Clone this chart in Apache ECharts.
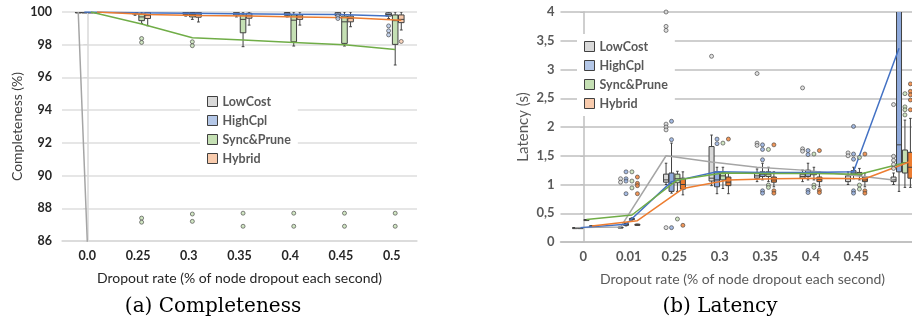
<!DOCTYPE html>
<html>
<head>
<meta charset="utf-8">
<script src="https://cdn.jsdelivr.net/npm/echarts@6/dist/echarts.min.js"></script>
<style>
  html, body { margin: 0; padding: 0; background: #fff; }
  #main { width: 912px; height: 335px; }
</style>
</head>
<body>
<div id="main"></div>
<script>
var methods = ['LowCost', 'HighCpl', 'Sync&Prune', 'Hybrid'];

// ---- (a) completeness ----
var compCats = ['0.0', '0.25', '0.3', '0.35', '0.4', '0.45', '0.5'];
// box = [low, q1, median, q3, high], null = not on the chart
var compLowCostBox = [[100, 100, 100, 100, 100], null, null, null, null, null, null];
var compHighCplBox = [[100, 100, 100, 100, 100], [99.8, 99.88, 99.95, 100, 100], [99.75, 99.85, 99.93, 99.98, 100],
  [99.7, 99.82, 99.9, 99.98, 100], [99.7, 99.8, 99.88, 99.97, 100], [99.65, 99.78, 99.86, 99.96, 100], [99.6, 99.75, 99.85, 99.95, 100]];
var compSyncBox = [[100, 100, 100, 100, 100], [99.3, 99.47, 99.7, 99.88, 100], [99.55, 99.7, 99.85, 99.97, 100],
  [97.88, 98.73, 99.55, 99.82, 100], [97.92, 98.18, 99.5, 99.82, 100], [97.92, 98.08, 99.4, 99.75, 100], [96.76, 98.02, 99.47, 99.82, 100]];
var compHybridBox = [[100, 100, 100, 100, 100], [99.16, 99.6, 99.8, 99.98, 100], [99.39, 99.68, 99.82, 99.98, 100],
  [99.2, 99.62, 99.77, 99.92, 100], [99.2, 99.55, 99.7, 99.82, 100], [99.1, 99.4, 99.6, 99.75, 100], [98.9, 99.35, 99.55, 99.82, 100]];
var compLowCostMean = [100, 21.5, 21.2, 21, 20.8, 20.6, 20.4];
var compHighCplMean = [100, 99.95, 99.93, 99.9, 99.87, 99.84, 99.75];
var compSyncMean = [100, 99.27, 98.43, 98.29, 98.14, 98.0, 97.7];
var compHybridMean = [100, 99.85, 99.78, 99.75, 99.7, 99.65, 99.5];
// outliers = [category index, value]
var compLowCostOut = [];
var compHighCplOut = [[5, 99.75], [5, 99.6], [6, 99.15], [6, 98.85], [6, 98.6]];
var compSyncOut = [[1, 98.38], [1, 98.14], [1, 87.4], [1, 87.15], [2, 98.18], [2, 97.94], [2, 87.65], [2, 87.2],
  [3, 87.7], [3, 86.9], [4, 87.7], [4, 86.9], [5, 87.7], [5, 86.9], [6, 87.7], [6, 86.9]];
var compHybridOut = [[6, 98.2]];

// ---- (b) latency ----
var latCats = ['0', '0.01', '0.25', '0.3', '0.35', '0.4', '0.45', '0.5'];
var latLowCostBox = [[0.25, 0.25, 0.25, 0.25, 0.25], [0.25, 0.25, 0.25, 0.26, 0.26], [1.0, 1.04, 1.08, 1.18, 1.37],
  [0.98, 1.06, 1.11, 1.66, 1.86], [1.05, 1.11, 1.15, 1.2, 1.27], [1.05, 1.11, 1.14, 1.18, 1.25], [1.0, 1.05, 1.1, 1.15, 1.22], [1.0, 1.05, 1.08, 1.13, 1.2]];
var latHighCplBox = [[0.25, 0.25, 0.25, 0.25, 0.25], [0.28, 0.29, 0.3, 0.32, 0.33], [0.85, 0.88, 1.02, 1.2, 1.72],
  [0.84, 0.96, 1.08, 1.22, 1.3], [1.08, 1.14, 1.18, 1.22, 1.37], [1.08, 1.14, 1.2, 1.25, 1.37], [1.1, 1.17, 1.2, 1.24, 1.3], [0.88, 1.22, 1.69, 4.6, 5.5]];
var latSyncBox = [[0.39, 0.39, 0.39, 0.39, 0.39], [0.38, 0.39, 0.4, 0.41, 0.42], [0.88, 1.03, 1.1, 1.18, 1.23],
  [0.93, 1.08, 1.15, 1.21, 1.3], [1.05, 1.14, 1.18, 1.22, 1.3], [1.08, 1.17, 1.2, 1.22, 1.3], [1.08, 1.16, 1.18, 1.21, 1.28], [0.95, 1.2, 1.38, 1.6, 2.12]];
var latHybridBox = [[0.28, 0.28, 0.28, 0.28, 0.28], [0.29, 0.29, 0.3, 0.31, 0.31], [0.82, 0.92, 1.0, 1.11, 1.22],
  [0.84, 0.98, 1.04, 1.13, 1.2], [0.96, 1.04, 1.08, 1.13, 1.22], [0.96, 1.05, 1.09, 1.13, 1.22], [0.96, 1.05, 1.08, 1.13, 1.2], [0.95, 1.11, 1.3, 1.56, 2.15]];
var latLowCostMean = [0.25, 0.26, 1.5, 1.39, 1.3, 1.25, 1.17, 1.08];
var latHighCplMean = [0.25, 0.31, 1.05, 1.22, 1.21, 1.21, 1.22, 3.37];
var latSyncMean = [0.39, 0.47, 1.08, 1.2, 1.19, 1.19, 1.18, 1.38];
var latHybridMean = [0.28, 0.37, 0.93, 1.08, 1.1, 1.11, 1.1, 1.4];
var latLowCostOut = [[1, 1.1], [1, 1.04], [2, 4.0], [2, 3.75], [2, 3.68], [2, 2.05], [2, 2.0], [2, 1.95], [2, 0.25], [3, 3.23],
  [4, 2.93], [4, 1.72], [4, 1.68], [5, 2.68], [5, 1.62], [5, 1.58], [6, 1.55], [6, 1.5], [7, 2.39], [7, 1.49], [7, 1.42], [7, 1.35], [7, 1.28]];
var latHighCplOut = [[1, 1.22], [1, 1.1], [1, 1.06], [1, 0.84], [2, 2.1], [2, 1.78], [2, 0.25], [3, 1.79], [3, 1.71],
  [4, 1.69], [4, 1.61], [4, 1.43], [4, 0.89], [4, 0.85], [5, 1.59], [5, 1.52], [5, 0.9], [5, 0.86], [6, 2.01], [6, 1.53], [6, 1.44], [6, 0.89], [6, 0.85]];
var latSyncOut = [[1, 1.22], [1, 1.06], [1, 0.94], [2, 0.4], [3, 1.72], [4, 1.61], [4, 0.99], [4, 0.95],
  [5, 1.53], [5, 0.99], [5, 0.95], [6, 1.47], [6, 0.99], [6, 0.92], [7, 2.58], [7, 2.35], [7, 2.3], [7, 2.21]];
var latHybridOut = [[1, 1.13], [1, 1.02], [1, 0.98], [1, 0.84], [2, 0.29], [3, 1.79], [4, 1.69], [4, 0.89], [4, 0.85],
  [5, 1.59], [5, 0.9], [5, 0.86], [6, 1.53], [6, 0.89], [6, 0.85], [7, 2.75], [7, 2.62], [7, 2.56], [7, 2.47], [7, 2.3]];

// styling
var lineColors = ['#a5a5a5', '#4472c4', '#70ad47', '#ed7d31'];
var legendFill = ['#d9d9d9', '#b4c7e7', '#c5e0b4', '#f8cbad'];
var compFill = ['#d9d9d9', '#b4c7e7', '#c5e0b4', '#f8cbad'];
var latFill = ['#d9d9d9', '#8faadc', '#c5e0b4', '#ed7d31'];
var offsets = [-0.18, -0.06, 0.07, 0.19];
var boxW = 0.11;
var edge = '#404040';

function makeBox(off, fill) {
  return function (params, api) {
    var x = api.value(0) + off;
    var lo = api.coord([x, api.value(1)]);
    var q1 = api.coord([x, api.value(2)]);
    var md = api.coord([x, api.value(3)]);
    var q3 = api.coord([x, api.value(4)]);
    var hi = api.coord([x, api.value(5)]);
    var w = api.size([boxW, 0])[0];
    var cx = lo[0];
    var st = { stroke: edge, lineWidth: 1 };
    return {
      type: 'group',
      children: [
        { type: 'line', shape: { x1: cx, y1: hi[1], x2: cx, y2: q3[1] }, style: st },
        { type: 'line', shape: { x1: cx, y1: q1[1], x2: cx, y2: lo[1] }, style: st },
        { type: 'line', shape: { x1: cx - w / 4, y1: hi[1], x2: cx + w / 4, y2: hi[1] }, style: st },
        { type: 'line', shape: { x1: cx - w / 4, y1: lo[1], x2: cx + w / 4, y2: lo[1] }, style: st },
        { type: 'rect', shape: { x: cx - w / 2, y: q3[1], width: w, height: Math.max(q1[1] - q3[1], 1) },
          style: { fill: fill, stroke: edge, lineWidth: 1 } },
        { type: 'line', shape: { x1: cx - w / 2, y1: md[1], x2: cx + w / 2, y2: md[1] }, style: st }
      ]
    };
  };
}

function buildSeries(g, boxes, means, outs, fills) {
  var list = [];
  methods.forEach(function (m, k) {
    var rows = [];
    boxes[k].forEach(function (b, i) { if (b) rows.push([i].concat(b)); });
    list.push({
      type: 'custom', name: m, xAxisIndex: g * 2 + 1, yAxisIndex: g, clip: true, z: 2,
      renderItem: makeBox(offsets[k], fills[k]),
      encode: { x: 0, y: [1, 2, 3, 4, 5] },
      data: rows
    });
  });
  methods.forEach(function (m, k) {
    list.push({
      type: 'line', name: m, xAxisIndex: g * 2 + 1, yAxisIndex: g, z: 3,
      symbol: 'none', clip: true, silent: true,
      lineStyle: { color: lineColors[k], width: 1.5 },
      itemStyle: { color: lineColors[k] },
      data: means[k].map(function (v, i) { return [i + offsets[k], v]; })
    });
  });
  methods.forEach(function (m, k) {
    list.push({
      type: 'scatter', name: m, xAxisIndex: g * 2 + 1, yAxisIndex: g, z: 4,
      symbolSize: 4, silent: true,
      itemStyle: { color: fills[k], borderColor: edge, borderWidth: 0.8 },
      data: outs[k].map(function (p) { return [p[0] + offsets[k], p[1]]; })
    });
  });
  return list;
}

var series = buildSeries(0,
  [compLowCostBox, compHighCplBox, compSyncBox, compHybridBox],
  [compLowCostMean, compHighCplMean, compSyncMean, compHybridMean],
  [compLowCostOut, compHighCplOut, compSyncOut, compHybridOut], compFill)
  .concat(buildSeries(1,
  [latLowCostBox, latHighCplBox, latSyncBox, latHybridBox],
  [latLowCostMean, latHighCplMean, latSyncMean, latHybridMean],
  [latLowCostOut, latHighCplOut, latSyncOut, latHybridOut], latFill));

var legendData = methods.map(function (m, k) {
  return { name: m, icon: 'rect', itemStyle: { color: legendFill[k], borderColor: edge, borderWidth: 1 } };
});
function legendAt(left, top) {
  return {
    orient: 'vertical', left: left, top: top, padding: [6, 7, 6, 7], itemGap: 6,
    itemWidth: 10, itemHeight: 10, backgroundColor: '#fff', selectedMode: false,
    textStyle: { fontFamily: 'Lato', fontWeight: 'bold', fontSize: 12.5, color: '#595959' },
    data: legendData
  };
}

var font = 'Lato';
var chart = echarts.init(document.getElementById('main'));
chart.setOption({
  animation: false,
  backgroundColor: '#fff',
  grid: [
    { left: 62, top: 12, width: 355, height: 229, outerBoundsMode: 'none' },
    { left: 560.5, top: 12, width: 364, height: 230, outerBoundsMode: 'none' }
  ],
  legend: [legendAt(200, 89), legendAt(577, 34)],
  xAxis: [
    {
      type: 'category', gridIndex: 0, data: compCats,
      name: 'Dropout rate (% of node dropout each second)', nameLocation: 'middle', nameGap: 30,
      nameTextStyle: { fontFamily: font, fontSize: 14, color: '#262626' },
      axisLine: { lineStyle: { color: '#d9d9d9', width: 1.5 } },
      axisTick: { length: 4, lineStyle: { color: '#d9d9d9' } },
      axisLabel: { fontFamily: font, fontWeight: 'bold', fontSize: 12.5, color: '#262626', margin: 8 },
      splitLine: { show: false }
    },
    { type: 'value', gridIndex: 0, min: -0.5, max: 6.5, show: false },
    {
      type: 'category', gridIndex: 1, data: latCats,
      name: 'Dropout rate (% of node dropout each second)', nameLocation: 'middle', nameGap: 30,
      nameTextStyle: { fontFamily: font, fontSize: 14, color: '#595959' },
      axisLine: { lineStyle: { color: '#bfbfbf', width: 1.5 } },
      axisTick: { length: 4, lineStyle: { color: '#bfbfbf' } },
      axisLabel: {
        fontFamily: font, fontWeight: 'bold', fontSize: 13, color: '#595959', margin: 8,
        formatter: function (v, i) { return i === latCats.length - 1 ? '' : v; }
      },
      splitLine: { show: false }
    },
    { type: 'value', gridIndex: 1, min: -0.5, max: 7.5, show: false }
  ],
  yAxis: [
    {
      type: 'value', gridIndex: 0, min: 86, max: 100, interval: 2,
      name: 'Completeness (%)', nameLocation: 'middle', nameGap: 38, nameRotate: 90,
      nameTextStyle: { fontFamily: font, fontSize: 14, color: '#404040' },
      axisLine: { show: true, lineStyle: { color: '#d9d9d9', width: 1.5 } },
      axisTick: { show: true, length: 4, lineStyle: { color: '#d9d9d9' } },
      axisLabel: { fontFamily: font, fontWeight: 'bold', fontSize: 12.5, color: '#262626', margin: 10 },
      splitLine: { lineStyle: { color: '#dedede', width: 1.5 } }
    },
    {
      type: 'value', gridIndex: 1, min: 0, max: 4, interval: 0.5,
      name: 'Latency (s)', nameLocation: 'middle', nameGap: 30, nameRotate: 90,
      nameTextStyle: { fontFamily: font, fontSize: 15, color: '#595959' },
      axisLine: { show: true, lineStyle: { color: '#bfbfbf', width: 1.5 } },
      axisTick: { show: true, length: 3, lineStyle: { color: '#bfbfbf' } },
      axisLabel: {
        fontFamily: font, fontWeight: 'bold', fontSize: 13, color: '#595959', margin: 6,
        formatter: function (v) { return String(v).replace('.', ','); }
      },
      splitLine: { lineStyle: { color: '#bfbfbf', width: 1.5 } }
    }
  ],
  graphic: [
    { type: 'text', x: 213, y: 307, style: { text: '(a) Completeness', font: '20px "DejaVu Serif"', fill: '#000', textAlign: 'center', textVerticalAlign: 'middle' } },
    { type: 'text', x: 720, y: 307, style: { text: '(b) Latency', font: '20px "DejaVu Serif"', fill: '#000', textAlign: 'center', textVerticalAlign: 'middle' } }
  ],
  series: series
});
</script>
</body>
</html>
